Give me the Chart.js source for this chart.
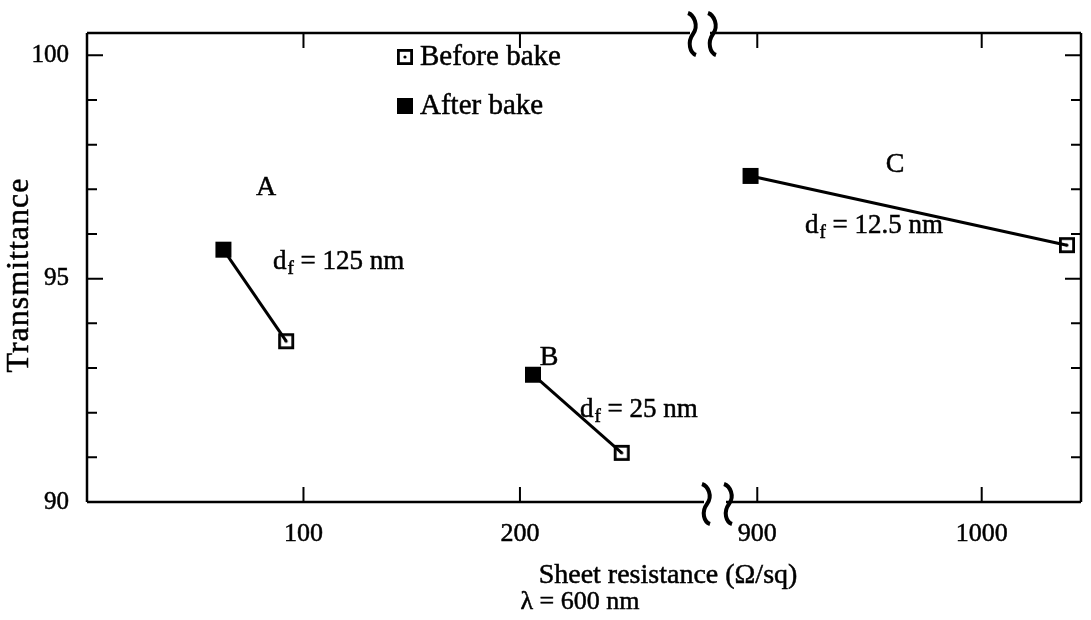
<!DOCTYPE html>
<html>
<head>
<meta charset="utf-8">
<script src="https://cdn.jsdelivr.net/npm/chart.js@4"></script>
<style>
html, body { margin: 0; padding: 0; background: #fff; }
</style>
</head>
<body>
<canvas id="c" width="1091" height="620"></canvas>
<script>
// samples A, B, C: sheet resistance (ohm/sq) and transmittance (%)
const samples = ['A', 'B', 'C'];
const filmThickness = ['125 nm', '25 nm', '12.5 nm'];
const resBefore = [92, 247, 1038];
const transBefore = [93.6, 91.1, 95.75];
const resAfter = [63, 206, 897];
const transAfter = [95.65, 92.85, 97.3];
const xTickValues = [100, 200, 900, 1000];
const yTickValues = [90, 95, 100];

// broken x axis: 0..~280 on the left, ~880..1040 on the right
const PX_LEFT = 2.18, PX_RIGHT = 2.26, RIGHT_900 = 675;
function toAxis(r) { return r < 500 ? r * PX_LEFT : RIGHT_900 + (r - 900) * PX_RIGHT; }

const FONT = 'Liberation Serif';
Chart.defaults.font.family = FONT;
Chart.defaults.color = '#000';

const beforeIcon = document.createElement('canvas');
beforeIcon.width = beforeIcon.height = 18;
(function () {
  const g = beforeIcon.getContext('2d');
  g.lineWidth = 2.8; g.strokeStyle = '#000';
  g.strokeRect(2.4, 2.4, 13.2, 13.2);
  g.fillStyle = '#000';
  g.beginPath(); g.arc(9, 9, 1.6, 0, Math.PI * 2); g.fill();
})();
const afterIcon = document.createElement('canvas');
afterIcon.width = afterIcon.height = 18;
(function () {
  const g = afterIcon.getContext('2d');
  g.fillStyle = '#000';
  g.fillRect(1, 1, 16, 16);
})();

function squiggle(ctx, x, y0, y1) {
  const h = y1 - y0;
  ctx.beginPath();
  ctx.moveTo(x - 4, y0);
  ctx.bezierCurveTo(x + 2, y0 + h * 0.05, x + 7, y0 + h * 0.3, x + 1, y0 + h * 0.5);
  ctx.bezierCurveTo(x - 5, y0 + h * 0.7, x - 2, y0 + h * 0.95, x + 4, y1);
  ctx.stroke();
}

// slightly heavier text, like the printed original
function text(ctx, s, x, y) {
  ctx.fillText(s, x, y);
  ctx.strokeText(s, x, y);
}

function subText(ctx, x, y, sub, rest) {
  ctx.font = '27px ' + FONT;
  ctx.textAlign = 'left';
  ctx.textBaseline = 'middle';
  text(ctx, 'd', x, y);
  let w = ctx.measureText('d').width;
  ctx.font = '19px ' + FONT;
  text(ctx, sub, x + w + 1, y + 7);
  w += ctx.measureText(sub).width + 1;
  ctx.font = '27px ' + FONT;
  text(ctx, rest, x + w, y);
}

const frame = {
  id: 'frame',
  afterDraw(chart) {
    const { ctx, chartArea: a, scales: { x, y } } = chart;
    ctx.save();
    ctx.strokeStyle = '#000';
    ctx.fillStyle = '#000';
    ctx.lineWidth = 2.5;
    ctx.lineCap = 'butt';
    // frame with breaks
    ctx.beginPath();
    ctx.moveTo(a.left, a.top); ctx.lineTo(a.left, a.bottom);
    ctx.moveTo(a.right, a.top); ctx.lineTo(a.right, a.bottom);
    ctx.moveTo(a.left, a.top); ctx.lineTo(690, a.top);
    ctx.moveTo(710, a.top); ctx.lineTo(a.right, a.top);
    ctx.moveTo(a.left, a.bottom); ctx.lineTo(704, a.bottom);
    ctx.moveTo(726, a.bottom); ctx.lineTo(a.right, a.bottom);
    ctx.stroke();
    ctx.lineWidth = 4;
    squiggle(ctx, 692, a.top - 20, a.top + 22);
    squiggle(ctx, 712, a.top - 20, a.top + 22);
    squiggle(ctx, 706, a.bottom - 18, a.bottom + 22);
    squiggle(ctx, 728, a.bottom - 18, a.bottom + 22);
    // inward ticks
    ctx.lineWidth = 2;
    ctx.beginPath();
    for (let v = 90; v <= 100; v++) {
      const py = y.getPixelForValue(v);
      const len = v % 5 === 0 ? 16 : 10;
      ctx.moveTo(a.left, py); ctx.lineTo(a.left + len, py);
      ctx.moveTo(a.right, py); ctx.lineTo(a.right - len, py);
    }
    xTickValues.forEach(v => {
      const px = x.getPixelForValue(toAxis(v));
      ctx.moveTo(px, a.bottom); ctx.lineTo(px, a.bottom - 15);
      ctx.moveTo(px, a.top); ctx.lineTo(px, a.top + 15);
    });
    ctx.stroke();
    ctx.lineWidth = 0.5;
    // legend
    ctx.drawImage(beforeIcon, 396, 48);
    ctx.drawImage(afterIcon, 396, 97);
    ctx.font = '29px ' + FONT;
    ctx.textAlign = 'left';
    ctx.textBaseline = 'middle';
    text(ctx, 'Before bake', 420, 57);
    text(ctx, 'After bake', 420, 106);
    // sample labels
    ctx.font = '28px ' + FONT;
    ctx.textAlign = 'center';
    text(ctx, samples[0], 266, 188);
    text(ctx, samples[1], 549, 358);
    text(ctx, samples[2], 895, 165);
    subText(ctx, 273, 262, 'f', ' = ' + filmThickness[0]);
    subText(ctx, 580, 410, 'f', ' = ' + filmThickness[1]);
    subText(ctx, 805, 226, 'f', ' = ' + filmThickness[2]);
    // axis titles
    ctx.font = '28px ' + FONT;
    ctx.textAlign = 'center';
    text(ctx, 'Sheet resistance (\u03A9/sq)', 668, 576);
    ctx.font = '26px ' + FONT;
    text(ctx, '\u03BB = 600 nm', 580, 602);
    ctx.font = '32px ' + FONT;
    ctx.letterSpacing = '1px';
    ctx.translate(20, 275);
    ctx.rotate(-Math.PI / 2);
    text(ctx, 'Transmittance', 0, 0);
    ctx.restore();
  }
};

const pairs = samples.map((s, i) => ({
  label: s,
  data: [{ x: toAxis(resAfter[i]), y: transAfter[i] }, { x: toAxis(resBefore[i]), y: transBefore[i] }],
  showLine: true,
  borderColor: '#000',
  borderWidth: 3,
  pointRadius: 0,
  pointHoverRadius: 0
}));

new Chart(document.getElementById('c'), {
  type: 'scatter',
  data: {
    datasets: [
      {
        label: 'Before bake',
        data: samples.map((s, i) => ({ x: toAxis(resBefore[i]), y: transBefore[i] })),
        pointStyle: beforeIcon,
        pointRadius: 9,
        pointHoverRadius: 9
      },
      {
        label: 'After bake',
        data: samples.map((s, i) => ({ x: toAxis(resAfter[i]), y: transAfter[i] })),
        pointStyle: afterIcon,
        pointRadius: 9,
        pointHoverRadius: 9
      },
      ...pairs
    ]
  },
  options: {
    responsive: false,
    animation: false,
    devicePixelRatio: 1,
    layout: { padding: { top: 30, right: 3, left: 0, bottom: 0 } },
    plugins: { legend: { display: false }, tooltip: { enabled: false } },
    scales: {
      x: {
        type: 'linear',
        min: 0,
        max: 1001,
        afterFit(s) { s.height = 118; },
        afterBuildTicks(s) { s.ticks = xTickValues.map(v => ({ value: toAxis(v) })); },
        ticks: {
          callback: (v, i) => xTickValues[i],
          autoSkip: false,
          maxRotation: 0,
          padding: 17,
          font: { size: 26 },
          textStrokeColor: '#000',
          textStrokeWidth: 0.5
        },
        grid: { display: false, drawTicks: false },
        border: { display: false }
      },
      y: {
        min: 90,
        max: 100.5,
        afterFit(s) { s.width = 87; },
        afterBuildTicks(s) { s.ticks = yTickValues.map(v => ({ value: v })); },
        ticks: { padding: 18, font: { size: 25 }, textStrokeColor: '#000', textStrokeWidth: 0.5 },
        grid: { display: false, drawTicks: false },
        border: { display: false }
      }
    }
  },
  plugins: [frame]
});
</script>
</body>
</html>
